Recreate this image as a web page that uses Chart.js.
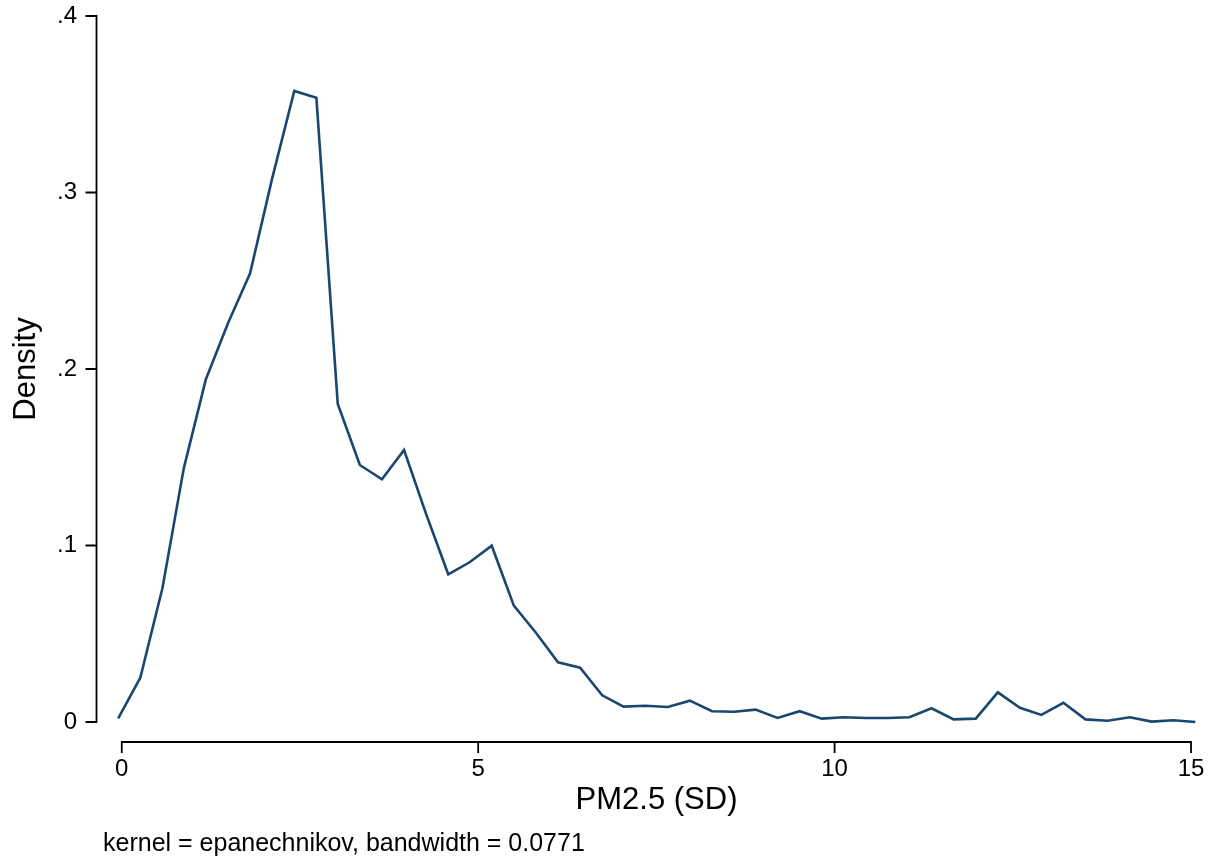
<!DOCTYPE html>
<html>
<head>
<meta charset="utf-8">
<script src="https://cdn.jsdelivr.net/npm/chart.js@4"></script>
<style>
html,body{margin:0;padding:0;background:#fff}
#wrap{width:1214px;height:859px}
</style>
</head>
<body>
<div id="wrap"><canvas id="densityChart"></canvas></div>
<script>
// kdensity grid (50 points) and estimated density
let pm25=[-0.05,0.26,0.57,0.87,1.18,1.49,1.80,2.11,2.42,2.73,
3.03,3.34,3.65,3.96,4.27,4.58,4.88,5.19,5.50,5.81,
6.12,6.43,6.74,7.04,7.35,7.66,7.97,8.28,8.59,8.89,
9.20,9.51,9.82,10.13,10.44,10.74,11.05,11.36,11.67,11.98,
12.29,12.60,12.90,13.21,13.52,13.83,14.14,14.45,14.75,15.06]
let density=[0.0021,0.0251,0.0758,0.1437,0.1942,0.2259,0.2542,0.3080,0.3575,0.3537,
0.1802,0.1456,0.1375,0.1541,0.1178,0.0837,0.0905,0.0999,0.0659,0.0506,
0.0338,0.0308,0.0151,0.0087,0.0092,0.0085,0.0121,0.0061,0.0058,0.0070,
0.0023,0.0061,0.0019,0.0027,0.0023,0.0023,0.0027,0.0078,0.0015,0.0019,
0.0168,0.0081,0.0040,0.0109,0.0015,0.0007,0.0027,0.0002,0.0010,0.0000]
let xTicks=[0,5,10,15]
let yTicks=[0,0.1,0.2,0.3,0.4]
let yTickLabels=["0",".1",".2",".3",".4"]
let xTitle="PM2.5 (SD)"
let yTitle="Density"
let note="kernel = epanechnikov, bandwidth = 0.0771"

let fontFamily="'Liberation Sans', Arial, sans-serif"
let points=pm25.map((x,i)=>({x:x,y:density[i]}))

// stata-style detached axes: lines and ticks drawn off the plot region
let stataAxes={
id:"stataAxes",
afterDraw(chart){
let ctx=chart.ctx
let xs=chart.scales.x
let ys=chart.scales.y
let area=chart.chartArea
ctx.save()
ctx.strokeStyle="#000"
ctx.lineWidth=1.8
ctx.lineCap="butt"
// y axis
let ax=area.left-21.5
ctx.beginPath()
ctx.moveTo(ax,ys.getPixelForValue(yTicks[yTicks.length-1])-0.9)
ctx.lineTo(ax,ys.getPixelForValue(yTicks[0])+0.9)
yTicks.forEach(v=>{
let p=ys.getPixelForValue(v)
ctx.moveTo(ax,p)
ctx.lineTo(ax-11,p)
})
ctx.stroke()
// x axis
let ay=area.bottom+20
ctx.beginPath()
ctx.moveTo(xs.getPixelForValue(xTicks[0])-0.9,ay)
ctx.lineTo(xs.getPixelForValue(xTicks[xTicks.length-1])+0.9,ay)
xTicks.forEach(v=>{
let p=xs.getPixelForValue(v)
ctx.moveTo(p,ay)
ctx.lineTo(p,ay+11)
})
ctx.stroke()
// note under the graph
ctx.fillStyle="#000"
ctx.font="25px "+fontFamily
ctx.textAlign="left"
ctx.textBaseline="alphabetic"
ctx.fillText(note,103,851)
ctx.restore()
}
}

new Chart(document.getElementById("densityChart"),{
type:"scatter",
data:{
datasets:[{
data:points,
showLine:true,
borderColor:"#1a476f",
borderWidth:2.6,
pointRadius:0,
fill:false,
tension:0,
clip:false
}]
},
options:{
responsive:true,
maintainAspectRatio:false,
animation:false,
events:[],
layout:{padding:{top:16,right:19,left:0,bottom:0}},
plugins:{legend:{display:false},tooltip:{enabled:false}},
scales:{
x:{
type:"linear",
min:-0.053,
max:15.056,
afterFit(scale){
scale.height=137
scale.paddingLeft=0
scale.paddingRight=0
},
afterBuildTicks(scale){scale.ticks=xTicks.map(v=>({value:v}))},
grid:{display:false,drawTicks:false},
border:{display:false},
ticks:{
padding:33,
color:"#000",
maxRotation:0,
autoSkip:false,
font:{family:fontFamily,size:24}
},
title:{
display:true,
text:xTitle,
color:"#000",
font:{family:fontFamily,size:31},
padding:{top:0,bottom:40}
}
},
y:{
type:"linear",
min:0,
max:0.4,
afterFit(scale){
scale.width=118
scale.paddingTop=0
scale.paddingBottom=0
},
afterBuildTicks(scale){scale.ticks=yTicks.map(v=>({value:v}))},
grid:{display:false,drawTicks:false},
border:{display:false},
ticks:{
padding:41,
color:"#000",
autoSkip:false,
font:{family:fontFamily,size:24},
callback:(v)=>yTickLabels[yTicks.indexOf(v)]
},
title:{
display:true,
text:yTitle,
color:"#000",
font:{family:fontFamily,size:31},
padding:{top:8,bottom:0}
}
}
}
},
plugins:[stataAxes]
})
</script>
</body>
</html>
